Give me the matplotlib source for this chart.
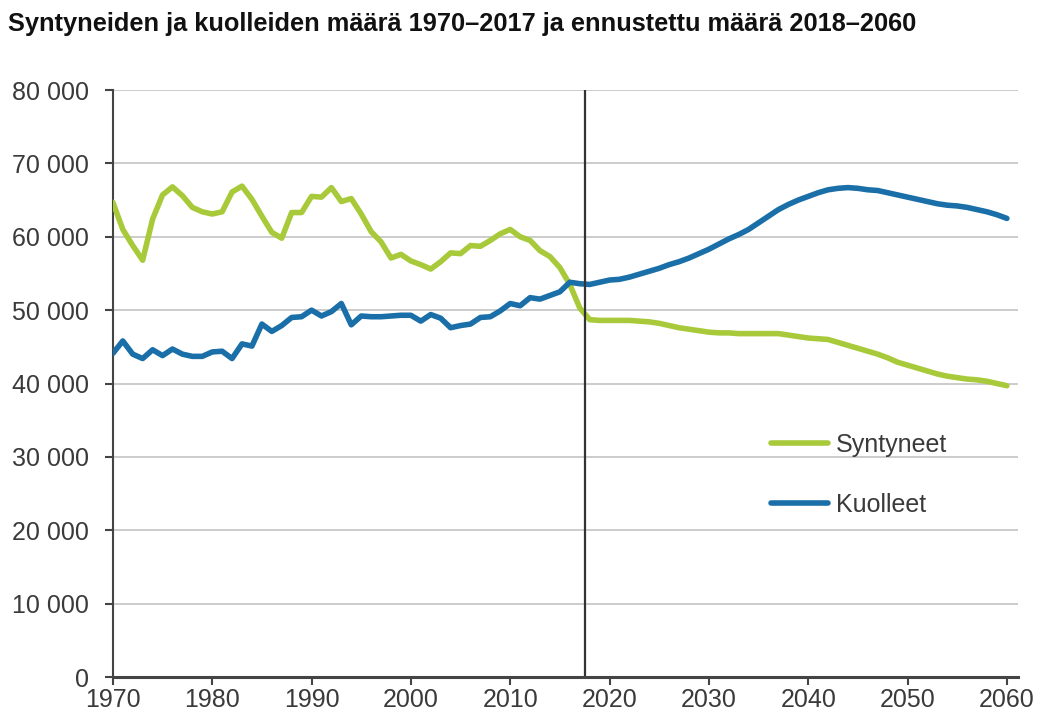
import numpy as np
import matplotlib
matplotlib.use("Agg")
import matplotlib.pyplot as plt
from matplotlib.ticker import FuncFormatter

plt.rcParams['font.family'] = ['Liberation Sans', 'DejaVu Sans']

# observed 1970-2017
years_hist = list(range(1970, 2018))
births_hist = [64700, 61000, 58800, 56800, 62400, 65700, 66800, 65600, 64000, 63400,
               63100, 63400, 66100, 66900, 65100, 62800, 60600, 59800, 63300, 63300,
               65500, 65400, 66700, 64800, 65200, 63100, 60700, 59300, 57100, 57600,
               56700, 56200, 55600, 56600, 57800, 57700, 58800, 58700, 59500, 60400,
               61000, 60000, 59500, 58100, 57300, 55800, 53500, 50300]
deaths_hist = [44100, 45800, 44000, 43400, 44600, 43800, 44700, 44000, 43700, 43700,
               44300, 44400, 43400, 45400, 45100, 48100, 47100, 47900, 49000, 49100,
               50000, 49200, 49800, 50900, 48000, 49200, 49100, 49100, 49200, 49300,
               49300, 48500, 49400, 48900, 47600, 47900, 48100, 49000, 49100, 49900,
               50900, 50600, 51700, 51500, 52000, 52500, 53800, 53600]

# forecast 2018-2060
years_fc = list(range(2018, 2061))
births_fc = [48700, 48600, 48600, 48600, 48600, 48500, 48400, 48200, 47900, 47600,
             47400, 47200, 47000, 46900, 46900, 46800, 46800, 46800, 46800, 46800,
             46600, 46400, 46200, 46100, 46000, 45600, 45200, 44800, 44400, 44000,
             43500, 42900, 42500, 42100, 41700, 41300, 41000, 40800, 40600, 40500,
             40300, 40000, 39700]
deaths_fc = [53500, 53800, 54100, 54200, 54500, 54900, 55300, 55700, 56200, 56600,
             57100, 57700, 58300, 59000, 59700, 60300, 61000, 61900, 62800, 63700,
             64400, 65000, 65500, 66000, 66400, 66600, 66700, 66600, 66400, 66300,
             66000, 65700, 65400, 65100, 64800, 64500, 64300, 64200, 64000, 63700,
             63400, 63000, 62500]

years = years_hist + years_fc
births = births_hist + births_fc
deaths = deaths_hist + deaths_fc

title = "Syntyneiden ja kuolleiden määrä 1970–2017 ja ennustettu määrä 2018–2060"
green = '#a8ca3a'
blue = '#1a6fa8'
txt = '#3a3a3a'

fig = plt.figure(figsize=(10.45, 7.2), dpi=100)
ax = fig.add_axes([0.108, 0.0597, 0.866, 0.8153])

for y in range(10000, 80001, 10000):
    ax.axhline(y, color='#cccccc', lw=1.4, zorder=1)

ax.plot(years, births, color=green, lw=4, label='Syntyneet', zorder=3,
        solid_capstyle='round', solid_joinstyle='round')
ax.plot(years, deaths, color=blue, lw=4, label='Kuolleet', zorder=3,
        solid_capstyle='round', solid_joinstyle='round')
ax.axvline(2017.5, color='#333333', lw=1.6, zorder=4)

ax.set_xlim(1970, 2061.1)
ax.set_ylim(0, 80000)
ax.set_xticks(range(1970, 2061, 10))
ax.set_yticks(range(0, 80001, 10000))
ax.yaxis.set_major_formatter(FuncFormatter(lambda v, p: f"{int(v):,}".replace(',', ' ')))

for s in ['top', 'right']:
    ax.spines[s].set_visible(False)
ax.spines['left'].set_color('#444444')
ax.spines['left'].set_linewidth(1.5)
ax.spines['bottom'].set_color('#444444')
ax.spines['bottom'].set_linewidth(2.2)
ax.spines['bottom'].set_zorder(5)
ax.tick_params(axis='y', direction='out', length=6, width=1.5, color='#444444',
               labelsize=18, labelcolor=txt, pad=11)
ax.tick_params(axis='x', direction='out', length=6, width=1.5, color='#444444',
               labelsize=18, labelcolor=txt, pad=2)

ax.legend(loc='center left', bbox_to_anchor=(0.727, 0.344), frameon=False,
          fontsize=18, handlelength=2.3, handletextpad=0.3, labelspacing=1.45,
          borderpad=0, borderaxespad=0, labelcolor=txt)

fig.text(0.008, 0.967, title, fontsize=18.3, fontweight='bold', color='#111111',
         ha='left', va='center')

fig.savefig('out.png', dpi=100)
